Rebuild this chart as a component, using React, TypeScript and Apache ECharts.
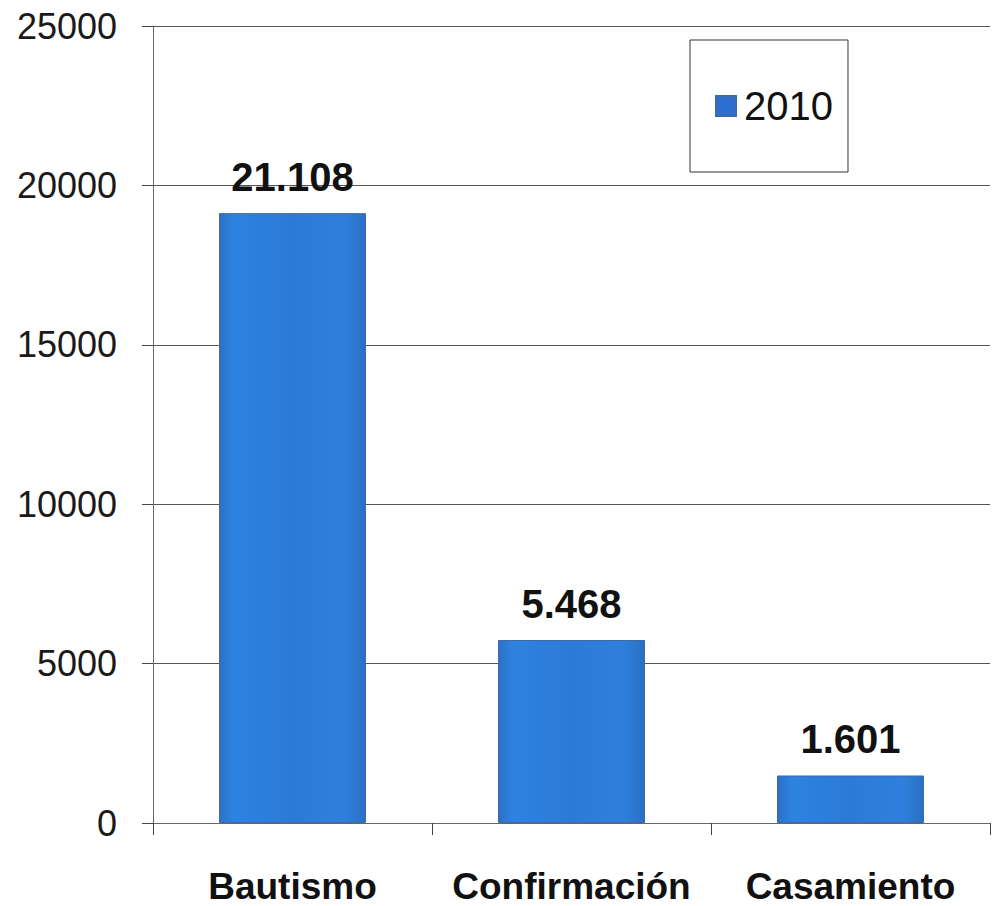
import React, { useEffect, useRef } from "react";
import * as echarts from "echarts";

const categories = ["Bautismo", "Confirmación", "Casamiento"];
const seriesName = "2010";
// bar heights as drawn in the picture
const barValues = [19130, 5740, 1490];
// value labels printed above the bars
const valueLabels = ["21.108", "5.468", "1.601"];
const yTicks = { min: 0, max: 25000, interval: 5000 };

const FONT = "'Liberation Sans', Arial, sans-serif";

export default function App() {
  const ref = useRef<HTMLDivElement>(null);
  useEffect(() => {
    document.body.style.margin = "0";
    const chart = echarts.init(ref.current!, null, { renderer: "svg" });
    const barGradient = new echarts.graphic.LinearGradient(0, 0, 1, 0, [
      { offset: 0, color: "#2a72c8" },
      { offset: 0.1, color: "#2e82e0" },
      { offset: 0.5, color: "#2c7ad8" },
      { offset: 0.85, color: "#2e80dc" },
      { offset: 1, color: "#2a70c4" },
    ]);
    chart.setOption({
      animation: false,
      backgroundColor: "#ffffff",
      grid: { left: 153, right: 4, top: 26, bottom: 83, containLabel: false },
      legend: {
        show: true,
        left: 690,
        top: 40,
        orient: "vertical",
        borderColor: "#333333",
        borderWidth: 1,
        padding: [46, 15, 46, 25],
        itemWidth: 20,
        itemHeight: 20,
        itemGap: 6,
        icon: "rect",
        textStyle: {
          fontFamily: FONT,
          fontSize: 40,
          color: "#111111",
          lineHeight: 40,
          padding: [0, 0, 0, 3],
        },
        data: [{ name: seriesName, itemStyle: { color: "#2d6fd0" } }],
      },
      xAxis: {
        type: "category",
        data: categories,
        axisLine: { show: true, lineStyle: { color: "#666666", width: 1 } },
        axisTick: { show: true, length: 12, alignWithLabel: false, lineStyle: { color: "#444444" } },
        axisLabel: {
          interval: 0,
          hideOverlap: false,
          fontFamily: FONT,
          fontWeight: "bold",
          fontSize: 37,
          lineHeight: 32,
          color: "#111111",
          margin: 47,
        },
        splitLine: { show: false },
      },
      yAxis: {
        type: "value",
        min: yTicks.min,
        max: yTicks.max,
        interval: yTicks.interval,
        axisLine: { show: true, lineStyle: { color: "#666666", width: 1 } },
        axisTick: { show: true, length: 11, lineStyle: { color: "#444444" } },
        axisLabel: {
          fontFamily: FONT,
          fontSize: 36,
          color: "#1a1a1a",
          margin: 36,
          formatter: (v: number) => String(v),
        },
        splitLine: { show: true, lineStyle: { color: "#555555", width: 1 } },
      },
      series: [
        {
          name: seriesName,
          type: "bar",
          data: barValues,
          barWidth: 147,
          itemStyle: { color: barGradient, borderColor: "#3f6aa6", borderWidth: 1 },
          label: {
            show: true,
            position: "top",
            distance: 16,
            fontFamily: FONT,
            fontWeight: "bold",
            fontSize: 40,
            color: "#111111",
            formatter: (p: any) => valueLabels[p.dataIndex],
          },
        },
      ],
    });
    return () => chart.dispose();
  }, []);
  return (
    <div
      ref={ref}
      style={{ position: "fixed", left: 0, top: 0, width: 994, height: 906 }}
    />
  );
}
